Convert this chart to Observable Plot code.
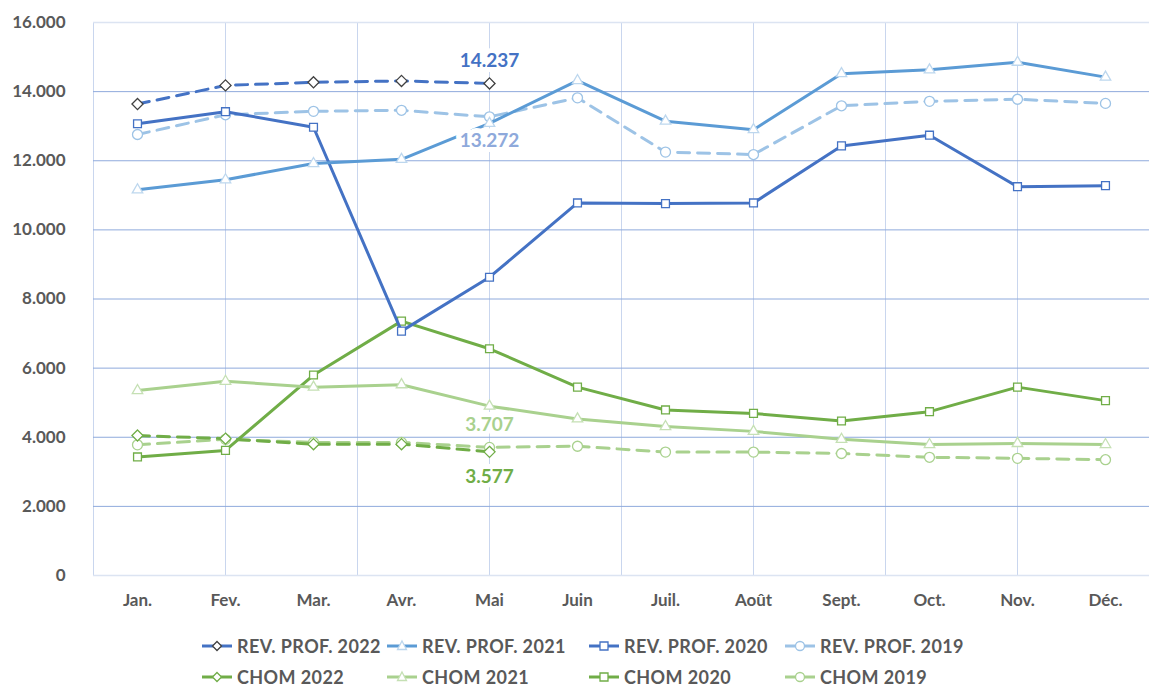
<!DOCTYPE html>
<html><head><meta charset="utf-8">
<script src="https://cdn.jsdelivr.net/npm/d3@7"></script>
<script src="https://cdn.jsdelivr.net/npm/@observablehq/plot@0.6"></script>
<style>
body{margin:0;background:#fff;font-family:Lato,"Open Sans",sans-serif;width:1149px;height:686px;overflow:hidden;}
#legend{display:grid;grid-template-columns:185px 202px 196px 190px;grid-auto-rows:31px;padding-left:200px;margin-top:10px;}
.item{display:flex;align-items:center;font-weight:700;font-size:18px;letter-spacing:0.4px;color:#595959;white-space:nowrap;}
.item svg{margin-right:3px;}
</style></head><body>
<div id="chart"></div>
<div id="legend"></div>
<script>
const months = ["Jan.","Fev.","Mar.","Avr.","Mai","Juin","Juil.","Août","Sept.","Oct.","Nov.","Déc."];
const yTicks = [0,2000,4000,6000,8000,10000,12000,14000,16000];
const revProf2022 = [13640,14180,14270,14310,14237];
const revProf2021 = [11160,11450,11920,12040,13080,14320,13145,12900,14520,14630,14850,14420];
const revProf2020 = [13070,13420,12970,7070,8630,10780,10760,10780,12430,12740,11250,11280];
const revProf2019 = [12760,13330,13430,13460,13272,13820,12250,12180,13590,13720,13780,13660];
const chom2022 = [4050,3960,3800,3800,3577];
const chom2021 = [5350,5620,5450,5520,4900,4530,4310,4170,3940,3790,3820,3790];
const chom2020 = [3430,3620,5800,7360,6560,5450,4790,4690,4470,4740,5450,5060];
const chom2019 = [3780,3940,3850,3850,3707,3740,3570,3570,3530,3420,3390,3350];

const series = [
  {name:"REV. PROF. 2022", values:revProf2022, color:"#4472C4", dash:"12,8", symbol:"diamond2", mark:"#404040"},
  {name:"REV. PROF. 2021", values:revProf2021, color:"#5B9BD5", dash:null, symbol:"triangle2", mark:"#BDD7EE"},
  {name:"REV. PROF. 2020", values:revProf2020, color:"#4472C4", dash:null, symbol:"square2", mark:"#4472C4"},
  {name:"REV. PROF. 2019", values:revProf2019, color:"#9DC3E6", dash:"12,8", symbol:"circle", mark:"#9DC3E6"},
  {name:"CHOM 2022", values:chom2022, color:"#70AD47", dash:"12,8", symbol:"diamond2", mark:"#70AD47"},
  {name:"CHOM 2021", values:chom2021, color:"#A9D18E", dash:null, symbol:"triangle2", mark:"#C5E0B4"},
  {name:"CHOM 2020", values:chom2020, color:"#70AD47", dash:null, symbol:"square2", mark:"#70AD47"},
  {name:"CHOM 2019", values:chom2019, color:"#A9D18E", dash:"12,8", symbol:"circle", mark:"#A9D18E"}
];
const drawOrder = [7,6,5,4,3,2,1,0];

const fmt = d => d === 0 ? "0" : d3.format(",")(d).replace(/,/g, ".");

const marks = [
  Plot.gridX(d3.range(-0.5, 11, 1.5), {stroke:"#C9D6EE", strokeOpacity:1, strokeWidth:1}),
  Plot.gridY(yTicks.filter(d => d > 0 && d < 16000), {stroke:"#8FAADC", strokeOpacity:1, strokeWidth:1}),
  Plot.gridY([0,16000], {stroke:"#DCE4F2", strokeOpacity:1, strokeWidth:1.5}),
  Plot.axisY(yTicks, {tickSize:0, tickPadding:28, tickFormat:fmt, fontSize:17, fontWeight:700, fill:"#595959", label:null}),
  Plot.axisX(d3.range(12), {tickSize:0, tickPadding:18, tickFormat:i => months[i], fontSize:17, fontWeight:700, fill:"#595959", label:null})
];
for (const si of drawOrder) {
  const s = series[si];
  const rows = s.values.map((v,i) => ({m:i, v}));
  marks.push(Plot.line(rows, {x:"m", y:"v", stroke:s.color, strokeWidth:3, strokeDasharray:s.dash, strokeLinejoin:"round"}));
  marks.push(Plot.dot(rows, {x:"m", y:"v", symbol:()=>s.symbol, r:5, stroke:s.mark, fill:"white", strokeWidth:1.3}));
}
const labels = [
  {m:4, v:revProf2022[4], color:"#4472C4", dy:-23},
  {m:4, v:revProf2019[4], color:"#8EA9DB", dy:24},
  {m:4, v:chom2019[4], color:"#A9D18E", dy:-22},
  {m:4, v:chom2022[4], color:"#70AD47", dy:25}
];
for (const l of labels) {
  marks.push(Plot.text([l], {x:"m", y:"v", text:d => fmt(d.v), fill:l.color, dy:l.dy, fontSize:19, fontWeight:700, stroke:"white", strokeWidth:10}));
}

const chart = Plot.plot({
  width:1149, height:620,
  marginLeft:93, marginRight:0, marginTop:22, marginBottom:45,
  style:{fontFamily:"Lato, 'Open Sans', sans-serif", background:"white"},
  x:{type:"linear", domain:[-0.5, 11.5], axis:null},
  y:{domain:[0,16000], axis:null},
  symbol:{type:"identity"},
  marks
});
document.getElementById("chart").appendChild(chart);

const legend = document.getElementById("legend");
const symPath = {
  diamond2:"M17,2.5 L21.5,7 L17,11.5 L12.5,7 Z",
  triangle2:"M17,2 L21.5,10.5 L12.5,10.5 Z",
  square2:"M13,3 L21,3 L21,11 L13,11 Z",
  circle:null
};
for (const s of series) {
  const div = document.createElement("div");
  div.className = "item";
  const marker = s.symbol === "circle"
    ? `<circle cx="17" cy="7" r="4.5" fill="white" stroke="${s.mark}" stroke-width="1.3"/>`
    : `<path d="${symPath[s.symbol]}" fill="white" stroke="${s.mark}" stroke-width="1.3"/>`;
  div.innerHTML = `<svg width="34" height="14"><line x1="2" x2="32" y1="7" y2="7" stroke="${s.color}" stroke-width="3"/>${marker}</svg><span>${s.name}</span>`;
  legend.appendChild(div);
}
</script>
</body></html>
